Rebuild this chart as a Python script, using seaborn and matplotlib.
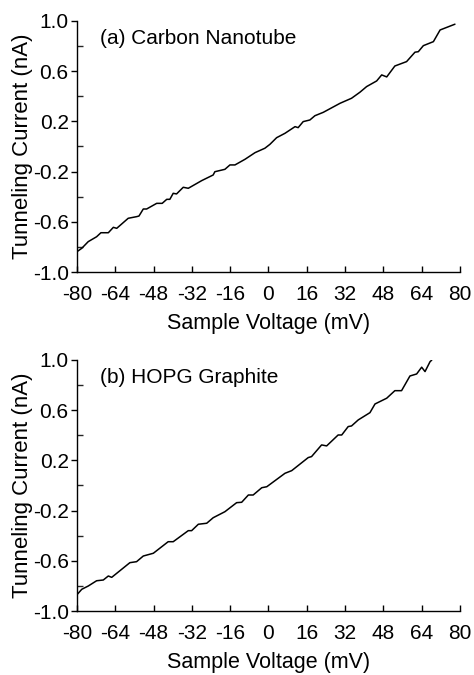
import matplotlib
matplotlib.use("Agg")
import matplotlib.pyplot as plt
import seaborn as sns
import pandas as pd
from matplotlib.ticker import FixedLocator

# Panel (a): carbon nanotube I-V curve
cnt_voltage = [-80.0, -78.0, -75.3, -71.8, -70.0, -66.9, -64.8, -63.4, -58.6, -55.1,
               -54.1, -52.3, -50.9, -46.7, -44.4, -42.5, -41.2, -39.8, -38.4, -35.6,
               -33.5, -27.9, -23.1, -22.4, -18.2, -16.1, -14.0, -9.8, -5.6, -1.5,
               0.6, 3.4, 6.9, 11.1, 12.4, 14.5, 17.3, 19.4, 22.9, 29.9,
               34.7, 38.2, 41.0, 45.2, 47.3, 49.4, 52.8, 57.7, 61.2, 62.6,
               64.7, 68.9, 71.7, 77.9]
cnt_current = [-0.838, -0.811, -0.758, -0.719, -0.687, -0.687, -0.644, -0.652, -0.572, -0.559,
               -0.554, -0.498, -0.498, -0.453, -0.453, -0.421, -0.421, -0.373, -0.378, -0.325,
               -0.333, -0.272, -0.227, -0.201, -0.182, -0.147, -0.147, -0.102, -0.049, -0.014,
               0.017, 0.070, 0.105, 0.158, 0.150, 0.198, 0.211, 0.245, 0.272, 0.344,
               0.384, 0.432, 0.477, 0.522, 0.570, 0.554, 0.641, 0.676, 0.751, 0.755,
               0.803, 0.835, 0.928, 0.974]

# Panel (b): HOPG graphite I-V curve
hopg_voltage = [-80.0, -78.0, -75.3, -71.8, -69.0, -66.9, -65.5, -57.9, -55.1, -52.3,
                -48.1, -41.9, -39.8, -33.5, -32.1, -29.3, -25.8, -23.1, -18.2, -13.3,
                -11.2, -8.4, -6.4, -2.8, -0.7, 6.9, 9.7, 16.6, 18.0, 22.2,
                24.3, 29.1, 30.6, 33.3, 34.7, 37.5, 42.4, 44.5, 49.4, 52.8,
                55.6, 59.1, 61.9, 64.0, 65.4, 67.5, 68.2]
hopg_current = [-0.870, -0.827, -0.801, -0.759, -0.753, -0.721, -0.732, -0.615, -0.607, -0.562,
                -0.540, -0.448, -0.448, -0.360, -0.360, -0.309, -0.301, -0.257, -0.209, -0.137,
                -0.134, -0.076, -0.076, -0.018, -0.010, 0.097, 0.118, 0.222, 0.230, 0.323,
                0.315, 0.402, 0.402, 0.469, 0.474, 0.522, 0.580, 0.649, 0.695, 0.755,
                0.755, 0.872, 0.888, 0.942, 0.907, 0.986, 0.998]

x_ticks = [-80, -64, -48, -32, -16, 0, 16, 32, 48, 64, 80]
y_ticks = [1.0, 0.6, 0.2, -0.2, -0.6, -1.0]
y_minor = [0.8, 0.4, 0.0, -0.4, -0.8]
panel_labels = ["(a) Carbon Nanotube", "(b) HOPG Graphite"]

sns.set_style("white")
plt.rcParams['font.family'] = ['Liberation Sans', 'DejaVu Sans']

fig = plt.figure(figsize=(4.74, 6.75), dpi=100)
ax_top = fig.add_axes([0.1624, 0.597, 0.808, 0.372])
ax_bot = fig.add_axes([0.1624, 0.0948, 0.808, 0.372])

panels = [
    (ax_top, cnt_voltage, cnt_current, panel_labels[0]),
    (ax_bot, hopg_voltage, hopg_current, panel_labels[1]),
]

for ax, volts, amps, label in panels:
    df = pd.DataFrame({"voltage": volts, "current": amps})
    sns.lineplot(ax=ax, data=df, x="voltage", y="current", color="black",
                 linewidth=1.1, sort=False, estimator=None)

    ax.set_xlim(-80, 80)
    ax.set_ylim(-1.0, 1.0)
    ax.set_xticks(x_ticks)
    ax.set_xticklabels([str(t) for t in x_ticks])
    ax.set_yticks(y_ticks)
    ax.set_yticklabels([f"{t:.1f}" for t in y_ticks])
    ax.yaxis.set_minor_locator(FixedLocator(y_minor))

    for side in ["top", "right"]:
        ax.spines[side].set_visible(False)
    for side in ["left", "bottom"]:
        ax.spines[side].set_color("black")
        ax.spines[side].set_linewidth(1.0)

    ax.tick_params(axis="x", direction="in", length=4, width=1, pad=9,
                   labelsize=15, colors="black", bottom=True)
    ax.tick_params(axis="y", which="major", direction="out", length=4, width=1,
                   pad=2, labelsize=15, colors="black", left=True)
    ax.tick_params(axis="y", which="minor", direction="in", length=4, width=1, left=True)

    ax.set_xlabel("Sample Voltage (mV)", fontsize=15.5, color="black", labelpad=7)
    ax.set_ylabel("Tunneling Current (nA)", fontsize=16, color="black")
    ax.yaxis.set_label_coords(-0.115, 0.5)
    ax.grid(False)

    ax.text(0.06, 0.93, label, transform=ax.transAxes, fontsize=15,
            ha="left", va="center", color="black")

fig.savefig("out.png", dpi=100, facecolor="white")
